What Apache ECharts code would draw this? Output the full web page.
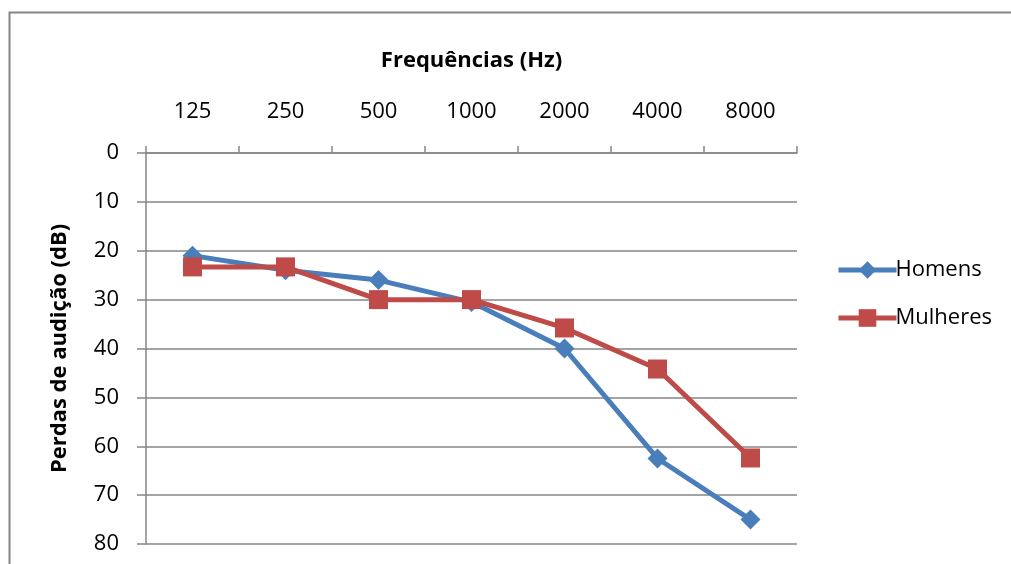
<!DOCTYPE html>
<html>
<head>
<meta charset="utf-8">
<script src="https://cdn.jsdelivr.net/npm/echarts@6/dist/echarts.min.js"></script>
<style>
  html, body { margin: 0; padding: 0; background: #fff; }
  #chart_con { width: 1011px; height: 564px; }
</style>
</head>
<body>
<div id="chart_con"></div>
<script>
  // frequências (Hz)
  const freqList = ['125', '250', '500', '1000', '2000', '4000', '8000'];
  // perdas de audição (dB)
  const homensList = [21, 24, 26, 30.5, 40, 62.5, 75];
  const mulheresList = [23.3, 23.3, 30, 30, 35.8, 44.2, 62.4];
  const yTicks = { min: 0, max: 80, interval: 10 };

  const chart = echarts.init(document.getElementById('chart_con'));
  const gray = '#868686';
  const font = '"Open Sans", sans-serif';

  const option = {
    animation: false,
    textStyle: { fontFamily: font },
    graphic: [{
      type: 'rect',
      left: 7, top: 10,
      shape: { width: 1100, height: 700 },
      style: { fill: 'none', stroke: gray, lineWidth: 2 },
      silent: true
    }],
    legend: {
      orient: 'vertical',
      left: 831,
      top: 254,
      itemWidth: 58,
      itemHeight: 22,
      itemGap: 26,
      lineStyle: { width: 5 },
      textStyle: { fontSize: 22, color: '#000', fontFamily: font, padding: [0, 0, 0, -6] },
      data: ['Homens', 'Mulheres']
    },
    grid: {
      left: 146,
      right: 214,
      top: 153,
      bottom: 20
    },
    xAxis: {
      type: 'category',
      position: 'top',
      data: freqList,
      boundaryGap: true,
      name: 'Frequências (Hz)',
      nameLocation: 'middle',
      nameGap: 81,
      nameTextStyle: { fontSize: 22, fontWeight: 'bold', color: '#000', fontFamily: font },
      axisLine: { show: true, lineStyle: { color: gray, width: 1.5 } },
      axisTick: { show: true, length: 7, lineStyle: { color: gray, width: 1.5 } },
      axisLabel: { fontSize: 22, color: '#000', margin: 30, fontFamily: font },
      splitLine: { show: false }
    },
    yAxis: {
      type: 'value',
      inverse: true,
      min: yTicks.min,
      max: yTicks.max,
      interval: yTicks.interval,
      name: 'Perdas de audição (dB)',
      nameLocation: 'middle',
      nameGap: 75,
      nameRotate: 90,
      nameTextStyle: { fontSize: 22, fontWeight: 'bold', color: '#000', fontFamily: font },
      axisLine: { show: true, lineStyle: { color: gray, width: 1.5 } },
      axisTick: { show: true, length: 9, lineStyle: { color: gray, width: 1.5 } },
      axisLabel: { fontSize: 22, color: '#000', margin: 27, fontFamily: font },
      splitLine: { show: true, lineStyle: { color: gray, width: 1.5 } }
    },
    series: [
      {
        name: 'Homens',
        type: 'line',
        data: homensList,
        symbol: 'diamond',
        symbolSize: 20,
        lineStyle: { color: '#4A7EBB', width: 5 },
        itemStyle: { color: '#4A7EBB' }
      },
      {
        name: 'Mulheres',
        type: 'line',
        data: mulheresList,
        symbol: 'rect',
        symbolSize: 19,
        lineStyle: { color: '#BE4B48', width: 5 },
        itemStyle: { color: '#BE4B48' }
      }
    ]
  };

  chart.setOption(option);

  window.addEventListener('resize', function () {
    chart.resize();
  });
</script>
</body>
</html>
